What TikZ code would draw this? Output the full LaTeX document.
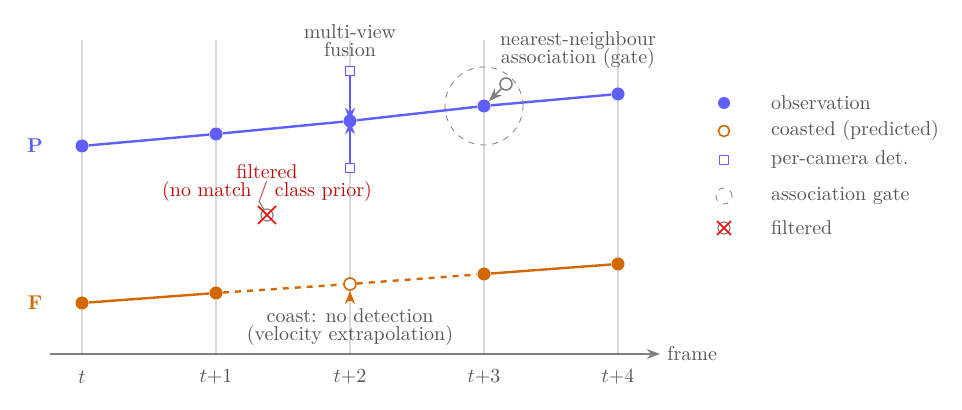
\documentclass[tikz,border=0pt]{standalone}
\usepackage{tikz}
\usetikzlibrary{arrows.meta, positioning, calc}
\definecolor{obsblue}{RGB}{95,95,255}
\definecolor{coastorange}{RGB}{212,104,0}
\definecolor{filtred}{RGB}{190,10,10}
\definecolor{txtgray}{RGB}{85,85,85}

\begin{document}
\begin{tikzpicture}[x=0.5pt, y=-0.5pt, font=\normalsize, text=txtgray,
  obs/.style={circle, fill=obsblue, inner sep=0pt, minimum size=6.5pt},
  pobs/.style={circle, fill=coastorange, inner sep=0pt, minimum size=6.5pt},
  coasted/.style={circle, draw=coastorange, thick, fill=white, inner sep=0pt, minimum size=6pt},
  camdet/.style={rectangle, draw=obsblue, semithick, fill=white, inner sep=0pt, minimum size=4.5pt},
  gate/.style={circle, draw=gray, dashed, inner sep=0pt},
  filt/.style={circle, draw=gray, semithick, inner sep=0pt, minimum size=6pt},
  xmark/.style={red, thick},
  grid/.style={gray!30, thick}]
  \useasboundingbox (0,0) rectangle (962,410);
  % frame axis and grid
  \foreach \x/\lab [count=\i] in {82/t, 216/t{+}1, 350/t{+}2, 484/t{+}3, 618/t{+}4} {
    \draw[grid] (\x,40) -- (\x,354);
    \node (tick\i) at (\x,377) {$\lab$};
  }
  \coordinate (ax0) at (50,354);
  \coordinate (ax1) at (660,354);
  \draw[gray, thick, -{Stealth}] (ax0) -- (ax1) node[right, text=txtgray] {frame};

  \node[text=obsblue, font=\bfseries] (lP) at (35,146) {P};
  \node[text=coastorange, font=\bfseries] (lF) at (35,303) {F};

  % P track
  \node[obs] (p0) at (82,146) {};
  \node[obs] (p1) at (216,134) {};
  \node[obs] (p2) at (350,121) {};
  \node[obs] (p3) at (484,106) {};
  \node[obs] (p4) at (618,94) {};
  \draw[obsblue, very thick] (p0) -- (p1) -- (p2) -- (p3) -- (p4);

  % multi-view fusion
  \node[camdet] (c1) at (350,71) {};
  \node[camdet] (c2) at (350,168) {};
  \draw[obsblue, thick, -{Stealth}] (c1) -- (p2.center);
  \draw[obsblue, thick, -{Stealth}] (c2) -- (p2.center);
  \node[align=center, above=1pt of c1] (fus) {multi-view\\[-3pt]fusion};

  % gate
  \node[gate, minimum size=39pt] (g) at (484,106) {};
  \node[circle, draw=gray, thick, fill=white, inner sep=0pt, minimum size=6pt] (cand) at (506,84) {};
  \draw[gray, thick, -{Stealth}] (cand) -- (p3);
  \node[align=center, anchor=south west] (nn) at (493,76) {nearest-neighbour\\[-3pt]association (gate)};

  % filtered
  \node[filt] (x1) at (267,215) {};
  \draw[xmark] ($(x1)+(-9,-9)$) -- ($(x1)+(9,9)$) ($(x1)+(-9,9)$) -- ($(x1)+(9,-9)$);
  \node[align=center, text=filtred] (fl) at (267,183) {filtered\\[-3pt](no match / class prior)};
  \draw[gray!70!black] (x1) -- ++(-8,-14);

  % F track
  \node[pobs] (f0) at (82,303) {};
  \node[pobs] (f1) at (216,293) {};
  \node[coasted] (f2) at (350,284) {};
  \node[pobs] (f3) at (484,274) {};
  \node[pobs] (f4) at (618,264) {};
  \draw[coastorange, very thick] (f0) -- (f1);
  \draw[coastorange, very thick, dashed] (f1) -- (f2) -- (f3);
  \draw[coastorange, very thick] (f3) -- (f4);
  \node[align=center] (cl) at (350,327) {coast: no detection\\[-3pt](velocity extrapolation)};
  \draw[coastorange, thick, -{Stealth}] (cl.north) -- (f2);

  % legend
  \node[obs, minimum size=6pt] (k1) at (724,103) {};
  \node[coasted, minimum size=5.5pt] (k2) at (724,131) {};
  \node[camdet] (k3) at (724,160) {};
  \node[gate, minimum size=8pt] (k4) at (724,196) {};
  \node[filt] (k5) at (724,228) {};
  \draw[xmark] ($(k5)+(-7,-7)$) -- ($(k5)+(7,7)$) ($(k5)+(-7,7)$) -- ($(k5)+(7,-7)$);
  \foreach \k/\t in {k1/observation, k2/coasted (predicted), k3/per-camera det., k4/association gate, k5/filtered}
    \node[anchor=west] at ([xshift=20]\k.center) {\t};
\end{tikzpicture}
\end{document}
